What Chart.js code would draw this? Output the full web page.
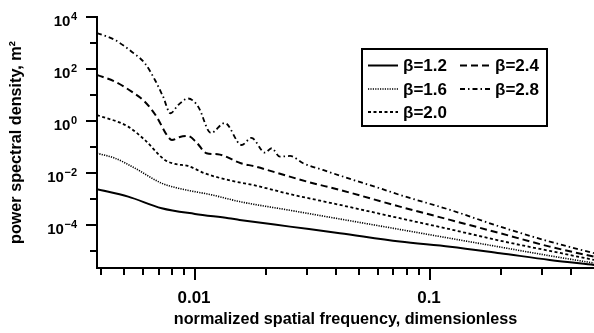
<!DOCTYPE html>
<html>
<head>
<meta charset="utf-8">
<script src="https://cdn.jsdelivr.net/npm/chart.js@4.4.1/dist/chart.umd.min.js"></script>
<style>
  html, body { margin: 0; padding: 0; background: #fff; }
</style>
</head>
<body>
<canvas id="psdChart" width="594" height="333"></canvas>
<script>
// values (log-log)
const freq12 = [0.00383, 0.0052, 0.00722, 0.01, 0.0139, 0.0155, 0.0254, 0.0414, 0.0745, 0.122, 0.199, 0.324, 0.5];
const psd12 = [0.00236, 0.00123, 4.39e-4, 2.65e-4, 1.81e-4, 1.56e-4, 8.6e-5, 4.8e-5, 2.28e-5, 1.46e-5, 8.2e-6, 4.5e-6, 2.9e-6];

const freq16 = [0.00383, 0.00457, 0.00556, 0.00722, 0.00849, 0.0118, 0.0155, 0.0254, 0.0414, 0.0745, 0.122, 0.199, 0.324, 0.5];
const psd16 = [0.0573, 0.0367, 0.0152, 0.00402, 0.00258, 0.00143, 7.9e-4, 3.65e-4, 1.69e-4, 6.7e-5, 3.05e-5, 1.41e-5, 6.5e-6, 3.4e-6];

const freq20 = [0.00383, 0.0052, 0.00612, 0.00745, 0.00822, 0.00934, 0.0110, 0.0138, 0.0180, 0.0254, 0.0414, 0.0745, 0.122, 0.199, 0.324, 0.5];
const psd20 = [1.70, 0.604, 0.186, 0.0316, 0.0222, 0.0186, 0.00973, 0.00538, 0.0033, 0.00153, 5.9e-4, 1.81e-4, 6.8e-5, 2.47e-5, 1.0e-5, 4.5e-6];

const freq24 = [0.00383, 0.00457, 0.00538, 0.00612, 0.00687, 0.00759, 0.00798, 0.00863, 0.00934, 0.0102, 0.0112, 0.0125, 0.0157, 0.0180, 0.0215, 0.0300, 0.0414, 0.0745, 0.122, 0.199, 0.324, 0.5];
const psd24 = [58.8, 32.5, 13.4, 5.52, 1.46, 0.29, 0.186, 0.243, 0.265, 0.143, 0.0573, 0.0524, 0.0236, 0.0178, 0.0112, 0.00463, 0.00222, 5.06e-4, 1.56e-4, 4.8e-5, 1.46e-5, 6.0e-6];

const freq28 = [0.00383, 0.00457, 0.00538, 0.00612, 0.00676, 0.00732, 0.00787, 0.00849, 0.00936, 0.01033, 0.0117, 0.0134, 0.0158, 0.0174, 0.0199, 0.0212, 0.0230, 0.0254, 0.0289, 0.0351, 0.0472, 0.0612, 0.0745, 0.122, 0.199, 0.324, 0.5];
const psd28 = [2430, 1300, 463, 166, 37.8, 8.6, 1.98, 4.12, 7.33, 3.55, 0.345, 0.838, 0.119, 0.222, 0.060, 0.089, 0.0424, 0.045, 0.0236, 0.0130, 0.00538, 0.00258, 0.00143, 3.78e-4, 8.6e-5, 2.28e-5, 8.2e-6];

const betaLabels = ['β=1.2', 'β=1.6', 'β=2.0', 'β=2.4', 'β=2.8'];

const yMajorExp = [4, 2, 0, -2, -4];
const yMinorExp = [3, 1, -1, -3, -5];
const xMajorTicks = [0.01, 0.1];
const xMajorLabels = ['0.01', '0.1'];
const xMinorTicks = [0.004, 0.005, 0.006, 0.007, 0.008, 0.009, 0.02, 0.03, 0.04, 0.05, 0.06, 0.07, 0.08, 0.09, 0.2, 0.3, 0.4];

const FONT = "'Liberation Sans', Arial, Helvetica, sans-serif";
Chart.defaults.font.family = FONT;
Chart.defaults.color = '#000';

function pairs(xs, ys) {
    return xs.map((x, i) => ({ x: x, y: ys[i] }));
}

function lineSet(label, xs, ys, width, dash) {
    return {
        label: label,
        data: pairs(xs, ys),
        borderColor: '#000',
        borderWidth: width,
        borderDash: dash,
        pointRadius: 0,
        fill: false,
        cubicInterpolationMode: 'monotone'
    };
}

// ticks, tick labels and the boxed legend
const decorPlugin = {
    id: 'decor',
    afterDraw(chart) {
        const ctx = chart.ctx;
        const xs = chart.scales.x;
        const ys = chart.scales.y;
        const area = chart.chartArea;
        ctx.save();
        ctx.strokeStyle = '#000';
        ctx.fillStyle = '#000';
        ctx.lineWidth = 2;

        // y ticks
        yMajorExp.forEach(e => {
            const py = Math.round(ys.getPixelForValue(Math.pow(10, e)));
            ctx.beginPath();
            ctx.moveTo(area.left - 11, py);
            ctx.lineTo(area.left, py);
            ctx.stroke();
            const exp = String(e).replace('-', '\u2212');
            ctx.font = 'bold 11px ' + FONT;
            ctx.textAlign = 'right';
            ctx.textBaseline = 'alphabetic';
            const ew = ctx.measureText(exp).width;
            const right = area.left - 20;
            ctx.fillText(exp, right, py + 2.5);
            ctx.font = 'bold 15px ' + FONT;
            ctx.fillText('10', right - ew - 0.5, py + 8.5);
        });
        yMinorExp.forEach(e => {
            const py = Math.round(ys.getPixelForValue(Math.pow(10, e)));
            ctx.beginPath();
            ctx.moveTo(area.left - 7, py);
            ctx.lineTo(area.left, py);
            ctx.stroke();
        });

        // x ticks
        ctx.font = 'bold 17px ' + FONT;
        ctx.textAlign = 'center';
        ctx.textBaseline = 'alphabetic';
        xMajorTicks.forEach((v, i) => {
            const px = Math.round(xs.getPixelForValue(v));
            ctx.beginPath();
            ctx.moveTo(px, area.bottom);
            ctx.lineTo(px, area.bottom + 12);
            ctx.stroke();
            ctx.fillText(xMajorLabels[i], px - 1, area.bottom + 35);
        });
        xMinorTicks.forEach(v => {
            const px = Math.round(xs.getPixelForValue(v));
            ctx.beginPath();
            ctx.moveTo(px, area.bottom);
            ctx.lineTo(px, area.bottom + 7);
            ctx.stroke();
        });

        // legend box
        const bx = 362, by = 49, bw = 185, bh = 77;
        ctx.fillStyle = '#fff';
        ctx.fillRect(bx, by, bw, bh);
        ctx.strokeRect(bx, by, bw, bh);
        const slots = [
            [368, 65.5], [368, 89], [368, 112],
            [460, 65.5], [460, 89]
        ];
        ctx.font = 'bold 17px ' + FONT;
        ctx.textAlign = 'left';
        ctx.textBaseline = 'middle';
        chart.data.datasets.forEach((ds, i) => {
            const [sx, sy] = slots[i];
            ctx.save();
            ctx.lineWidth = ds.borderWidth;
            ctx.setLineDash(ds.borderDash || []);
            ctx.beginPath();
            ctx.moveTo(sx, sy);
            ctx.lineTo(sx + 30, sy);
            ctx.stroke();
            ctx.restore();
            ctx.fillStyle = '#000';
            ctx.fillText(ds.label, sx + 35, sy + 1);
        });
        ctx.restore();
    }
};

const ctx = document.getElementById('psdChart').getContext('2d');
const psdChart = new Chart(ctx, {
    type: 'line',
    data: {
        datasets: [
            lineSet(betaLabels[0], freq12, psd12, 2, []),
            lineSet(betaLabels[1], freq16, psd16, 1.6, [1.2, 1.2]),
            lineSet(betaLabels[2], freq20, psd20, 1.8, [3, 2.5]),
            lineSet(betaLabels[3], freq24, psd24, 2, [7, 4]),
            lineSet(betaLabels[4], freq28, psd28, 1.8, [5, 3, 1.5, 3])
        ]
    },
    options: {
        responsive: false,
        animation: false,
        layout: { padding: { top: 17, right: 0, bottom: 0, left: 0 } },
        plugins: {
            legend: { display: false },
            tooltip: { enabled: false }
        },
        scales: {
            x: {
                type: 'logarithmic',
                min: 0.00383,
                max: 0.5,
                grid: { display: false },
                border: { display: true, width: 2, color: '#000' },
                ticks: { display: false },
                title: {
                    display: true,
                    text: 'normalized spatial frequency, dimensionless',
                    font: { size: 16.2, weight: 'bold' },
                    padding: { top: 0, bottom: 4 }
                },
                afterFit(scale) { scale.height = 65; }
            },
            y: {
                type: 'logarithmic',
                min: 2.2e-6,
                max: 1e4,
                grid: { display: false },
                border: { display: true, width: 2, color: '#000' },
                ticks: { display: false },
                title: {
                    display: true,
                    text: 'power spectral density, m²',
                    font: { size: 16.2, weight: 'bold' },
                    padding: { top: 7, bottom: 0 }
                },
                afterFit(scale) { scale.width = 97; }
            }
        }
    },
    plugins: [decorPlugin]
});
</script>
</body>
</html>
